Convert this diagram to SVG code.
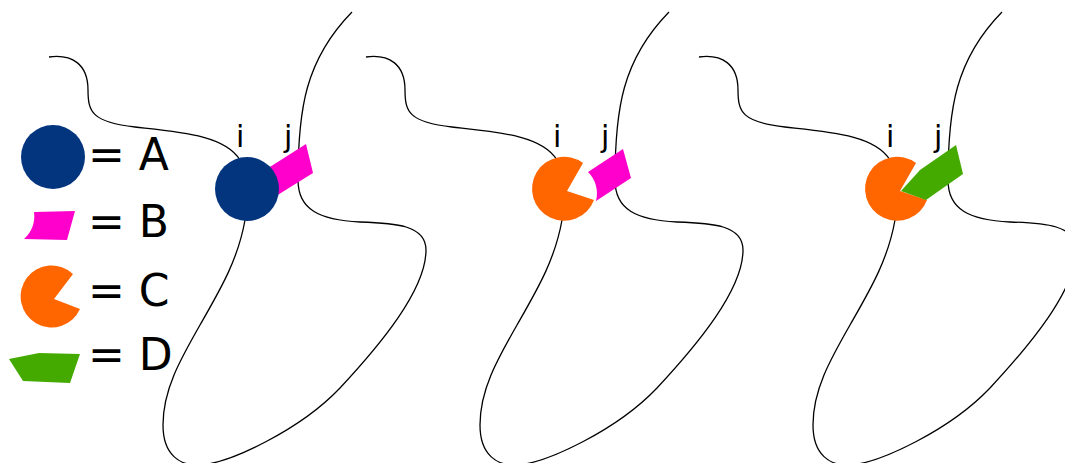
<svg xmlns="http://www.w3.org/2000/svg" width="1065" height="463" viewBox="0 0 1065 463">
<style>
.chain{fill:none;stroke:#000;stroke-width:1.3}
.lbl{font-family:"DejaVu Sans",sans-serif;font-size:30px;fill:#000}
.leg{font-family:"DejaVu Sans",sans-serif;font-size:44px;fill:#000}
.a{fill:#03357f}
.b{fill:#ff00cc}
.c{fill:#ff6600}
.d{fill:#44aa00}
</style>
<defs>
<path id="chainPath" d="M49,57 C72,54 88,64 88,90 C88,112 92,122 135,127 C180,132 225,135 240,160 C250,175 248,200 245,220 C238,260 220,290 200,325 C180,360 163,390 163,425 C163,455 180,466 200,465 C230,463 300,430 340,388 C380,345 426,290 426,250 C426,225 395,223 360,222 C320,220 298,210 298,180 C298,110 305,60 352,12"/>
</defs>
<rect width="1065" height="463" fill="#fff"/>
<g id="connectors">
<use href="#chainPath" class="chain"/>
<use href="#chainPath" class="chain" transform="translate(317,0)"/>
<use href="#chainPath" class="chain" transform="translate(650,0)"/>
</g>
<g id="legend">
<g id="legend-A"><circle class="a" cx="53" cy="157" r="32"/><text class="leg" x="88" y="170">= A</text></g>
<g id="legend-B"><path class="b" d="M34,212 L75,211 L67,240 L24,239 A30,30 0 0,0 34,212 Z"/><text class="leg" x="88" y="237">= B</text></g>
<g id="legend-C"><path class="c" d="M54,299 L73,274 A31,31 0 1,0 80,309 Z"/><text class="leg" x="88" y="306">= C</text></g>
<g id="legend-D"><path class="d" d="M9,359 L39,353 L80,354 L70,383 L23,381 Z"/><text class="leg" x="88" y="370">= D</text></g>
</g>
<g id="panel1">
<g id="p1-B"><path class="b" d="M262,172 L306,144 L313,173 L268,201 Z"/></g>
<g id="p1-A"><circle class="a" cx="247" cy="189" r="32"/></g>
<text class="lbl" x="236" y="147">i</text>
<text class="lbl" x="284" y="147">j</text>
</g>
<g id="panel2">
<g id="p2-C"><path class="c" d="M567,191 L583,163 A32,32 0 1,0 594,200 Z"/></g>
<g id="p2-B"><path class="b" d="M588,172 L623,149 L631,178 L596,201 A30,30 0 0,0 588,172 Z"/></g>
<text class="lbl" x="553" y="147">i</text>
<text class="lbl" x="601" y="147">j</text>
</g>
<g id="panel3">
<g id="p3-C"><path class="c" d="M900,191 L916,163 A32,32 0 1,0 927,200 Z"/></g>
<g id="p3-D"><path class="d" d="M901,191 L920,170 L956,145 L963,174 L926,200 Z"/></g>
<text class="lbl" x="886" y="147">i</text>
<text class="lbl" x="934" y="147">j</text>
</g>
</svg>
